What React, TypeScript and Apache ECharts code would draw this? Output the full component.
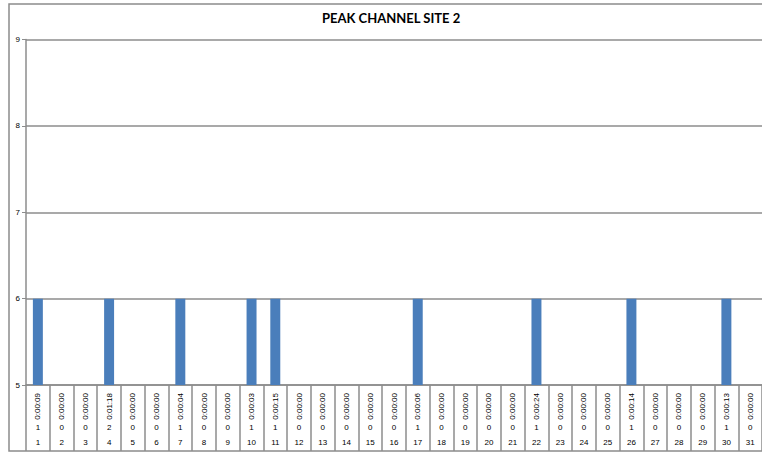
import React, { useEffect, useRef } from "react";
import * as echarts from "echarts";

const days = ["1","2","3","4","5","6","7","8","9","10","11","12","13","14","15","16","17","18","19","20","21","22","23","24","25","26","27","28","29","30","31"];
const counts = ["1","0","0","2","0","0","1","0","0","1","1","0","0","0","0","0","1","0","0","0","0","1","0","0","0","1","0","0","0","1","0"];
const times = ["0:00:09","0:00:00","0:00:00","0:01:18","0:00:00","0:00:00","0:00:04","0:00:00","0:00:00","0:00:03","0:00:15","0:00:00","0:00:00","0:00:00","0:00:00","0:00:00","0:00:06","0:00:00","0:00:00","0:00:00","0:00:00","0:00:24","0:00:00","0:00:00","0:00:00","0:00:14","0:00:00","0:00:00","0:00:00","0:00:13","0:00:00"];
const peakValues = [6,null,null,6,null,null,6,null,null,6,6,null,null,null,null,null,6,null,null,null,null,6,null,null,null,6,null,null,null,6,null];
const yTicks = { min: 5, max: 9, interval: 1 };
const title = "PEAK CHANNEL SITE 2";

const FONT = "Liberation Sans";
const GRAY = "#8c8c8c";

export default function App() {
  const ref = useRef<HTMLDivElement>(null);
  useEffect(() => {
    document.body.style.margin = "0";
    if (!ref.current) return;
    const chart = echarts.init(ref.current, null, { renderer: "svg" });
    const baseX = {
      type: "category" as const,
      position: "bottom" as const,
      boundaryGap: true,
      axisLine: { show: false, onZero: false },
      axisTick: { show: false },
      splitLine: { show: false },
    };
    const lbl = { interval: 0, fontSize: 8, color: "#000", fontFamily: FONT };
    chart.setOption({
      animation: false,
      backgroundColor: "#fff",
      title: {
        text: title,
        left: 317,
        top: 6,
        padding: 5,
        textStyle: { fontFamily: "Lato", fontWeight: "bold", fontSize: 13, color: "#000" },
      },
      graphic: [
        {
          type: "rect",
          shape: { x: 9, y: 4, width: 780, height: 447 },
          style: { fill: "none", stroke: GRAY, lineWidth: 1.5 },
          z: -1,
          silent: true,
        },
      ],
      grid: { left: 26, right: 0, top: 39.5, bottom: 68, containLabel: false },
      xAxis: [
        {
          ...baseX,
          data: days,
          axisLine: { show: true, onZero: false, lineStyle: { color: GRAY, width: 1.5 } },
          axisTick: { show: true, interval: 0, alignWithLabel: false, length: 66, lineStyle: { color: GRAY, width: 1.5 } },
          axisLabel: { ...lbl, margin: 53 },
        },
        {
          ...baseX,
          data: counts,
          axisLabel: { ...lbl, margin: 38 },
        },
        {
          ...baseX,
          data: times,
          axisLabel: { ...lbl, fontSize: 8, rotate: 90, margin: 8 },
        },
      ],
      yAxis: {
        type: "value",
        min: yTicks.min,
        max: yTicks.max,
        interval: yTicks.interval,
        axisLine: { show: true, lineStyle: { color: GRAY, width: 1.5 } },
        axisTick: { show: true, length: 4, lineStyle: { color: GRAY, width: 1 } },
        splitLine: { show: true, lineStyle: { color: GRAY, width: 1.5 } },
        axisLabel: { fontSize: 8, color: "#000", fontFamily: FONT, margin: 6 },
      },
      series: [
        {
          type: "bar",
          xAxisIndex: 0,
          yAxisIndex: 0,
          data: peakValues,
          barWidth: "42%",
          itemStyle: { color: "#4a7ebb" },
        },
      ],
    });
    return () => chart.dispose();
  }, []);
  return <div ref={ref} style={{ width: 762, height: 453 }} />;
}
